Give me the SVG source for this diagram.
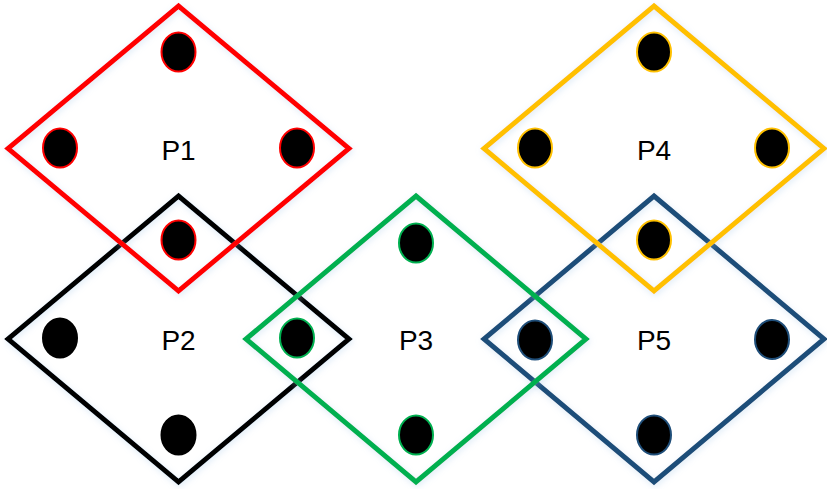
<svg xmlns="http://www.w3.org/2000/svg" width="827" height="489" viewBox="0 0 827 489">
<defs>
<filter id="glow" x="-10%" y="-10%" width="120%" height="120%">
<feGaussianBlur in="SourceAlpha" stdDeviation="3" result="b"/>
<feOffset dx="1" dy="2" in="b" result="o"/>
<feFlood flood-color="#9DC3E6" flood-opacity="0.35"/>
<feComposite in2="o" operator="in" result="s"/>
<feMerge><feMergeNode in="s"/><feMergeNode in="SourceGraphic"/></feMerge>
</filter>
</defs>
<style>
.d{fill:none;stroke-width:5;stroke-linejoin:miter;filter:url(#glow)}
.dot{stroke-width:2}
.lbl{font-family:"Liberation Sans",Arial,sans-serif;font-size:28px;fill:#000;text-anchor:middle;dominant-baseline:central}
</style>
<g id="P2">
<polygon class="d" stroke="#000000" points="178.5,196 349,339 178.5,482 8,339"/>
<ellipse class="dot" cx="60" cy="338" rx="17" ry="19.5" fill="#000" stroke="#000"/>
<ellipse class="dot" cx="178.5" cy="435" rx="17" ry="19.5" fill="#000" stroke="#000"/>
<text class="lbl" x="178.5" y="340">P2</text>
</g>
<g id="P5">
<polygon class="d" stroke="#1F4E79" points="654,196 824,339 654,482 484,339"/>
<ellipse class="dot" cx="772" cy="339.5" rx="17" ry="19.5" fill="#000" stroke="#1F4E79"/>
<ellipse class="dot" cx="654" cy="435" rx="17" ry="19.5" fill="#000" stroke="#1F4E79"/>
<text class="lbl" x="654" y="340">P5</text>
</g>
<g id="P1">
<polygon class="d" stroke="#FF0000" points="178.5,6 349,148.5 178.5,291 8,148.5"/>
<ellipse class="dot" cx="178.5" cy="52" rx="17" ry="19.5" fill="#000" stroke="#FF0000"/>
<ellipse class="dot" cx="60" cy="148" rx="17" ry="19.5" fill="#000" stroke="#FF0000"/>
<ellipse class="dot" cx="297" cy="148" rx="17" ry="19.5" fill="#000" stroke="#FF0000"/>
<text class="lbl" x="178.5" y="150">P1</text>
</g>
<g id="P3">
<polygon class="d" stroke="#00B050" points="416,196 586,339 416,482 246,339"/>
<ellipse class="dot" cx="416" cy="243" rx="17" ry="19.5" fill="#000" stroke="#00B050"/>
<ellipse class="dot" cx="416" cy="435" rx="17" ry="19.5" fill="#000" stroke="#00B050"/>
<text class="lbl" x="416" y="340">P3</text>
</g>
<g id="P4">
<polygon class="d" stroke="#FFC000" points="654,6 824,148.5 654,291 484,148.5"/>
<ellipse class="dot" cx="654" cy="52" rx="17" ry="19.5" fill="#000" stroke="#FFC000"/>
<ellipse class="dot" cx="535" cy="148" rx="17" ry="19.5" fill="#000" stroke="#FFC000"/>
<ellipse class="dot" cx="772" cy="148" rx="17" ry="19.5" fill="#000" stroke="#FFC000"/>
<text class="lbl" x="654" y="150">P4</text>
</g>
<g id="shared-dots">
<ellipse class="dot" cx="178.5" cy="240" rx="17" ry="19.5" fill="#000" stroke="#FF0000"/>
<ellipse class="dot" cx="297" cy="338" rx="17" ry="19.5" fill="#000" stroke="#00B050"/>
<ellipse class="dot" cx="535" cy="340" rx="17" ry="19.5" fill="#000" stroke="#1F4E79"/>
<ellipse class="dot" cx="654" cy="240" rx="17" ry="19.5" fill="#000" stroke="#FFC000"/>
</g>
<g id="connectors"></g>
</svg>
